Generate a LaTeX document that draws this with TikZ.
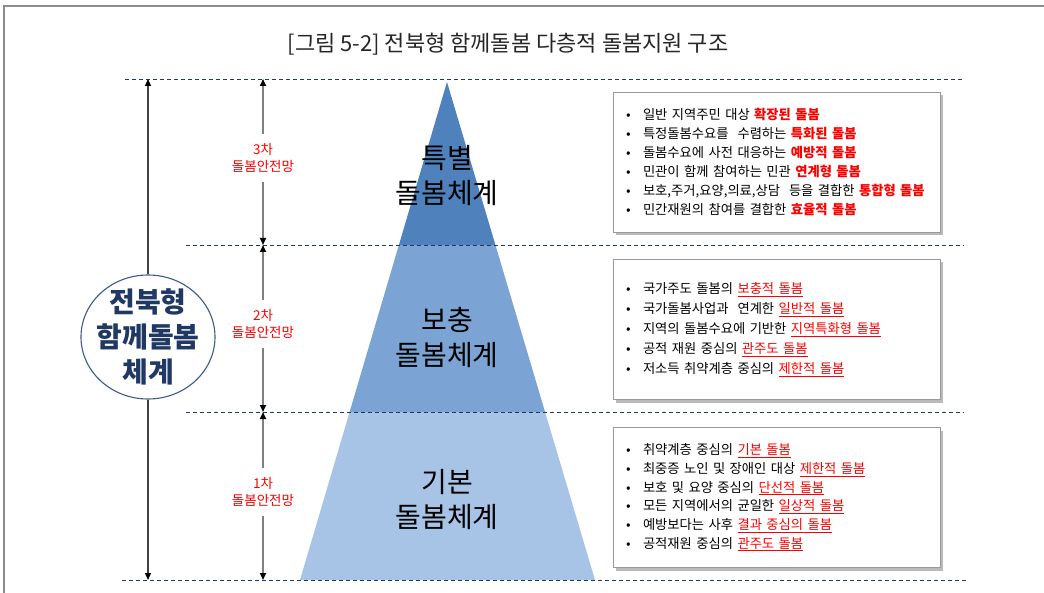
\documentclass[tikz,border=0pt]{standalone}
\usepackage{fontspec}
\setmainfont{Noto Sans CJK KR}
\usetikzlibrary{calc}
\usetikzlibrary{arrows.meta}
\usetikzlibrary{shapes.geometric}
\usetikzlibrary{shadows}

\definecolor{navy}{HTML}{1F3864}
\definecolor{rimblue}{HTML}{3E5A8E}
\definecolor{lvthree}{HTML}{4F81BD}
\definecolor{lvtwo}{HTML}{7BA3D3}
\definecolor{lvone}{HTML}{A7C3E5}
\definecolor{hired}{HTML}{FF0000}
\definecolor{framegray}{HTML}{8C8C8C}

\tikzset{
  sep/.style={navy, dash pattern=on 4pt off 3pt, line width=0.9pt},
  net/.style={hired, align=center, font=\fontsize{13.5}{17.5}\selectfont, inner xsep=2pt, inner ysep=9pt},
  netarr/.style={gray, line width=1.6pt, -{Triangle[length=7pt,width=6pt,color=black]}},
  sysarr/.style={black!75, line width=1.2pt, -{Triangle[length=7pt,width=6pt,color=black]}},
  layer/.style={align=center, font=\fontsize{28}{35}\selectfont},
  infobox/.style={draw=black!40, fill=white, line width=0.8pt, minimum width=327pt,
    minimum height=140pt, text width=301pt, inner xsep=13pt, align=left,
    drop shadow={shadow xshift=3pt, shadow yshift=-3pt, opacity=.45, fill=black!60}},
}
\newcommand{\bul}{\makebox[17pt][l]{•}}
\newcommand{\redbf}[1]{\textcolor{hired}{\textbf{#1}}}
\newcommand{\redul}[1]{\textcolor{hired}{\underline{#1}}}

\begin{document}
\begin{tikzpicture}[x=1pt,y=-1pt]
\useasboundingbox (0,0) rectangle (1044,593);
\draw[framegray, line width=1.5pt] (4,593) |- (1044,6);

\node[font=\fontsize{22}{26}\selectfont, text=black!85] (title) at (508,44) {[그림 5-2] 전북형 함께돌봄 다층적 돌봄지원 구조};

\coordinate (apex) at (447,82);
\coordinate (bl) at (300,580);
\coordinate (br) at (595,580);
\fill[lvone] (bl) -- (br) -- ($(apex)!0.6627!(br)$) -- ($(apex)!0.6627!(bl)$) -- cycle;
\fill[lvtwo] ($(apex)!0.6627!(bl)$) -- ($(apex)!0.6627!(br)$) -- ($(apex)!0.3273!(br)$) -- ($(apex)!0.3273!(bl)$) -- cycle;
\fill[lvthree] (apex) -- ($(apex)!0.3273!(br)$) -- ($(apex)!0.3273!(bl)$) -- cycle;

\draw[sep] (125,79) -- (964,79);
\draw[sep] (186,245) -- (964,245);
\draw[sep] (186,412) -- (964,412);
\draw[sep] (122,580) -- (966,580);

\node[layer] (special) at (447,176) {특별\\돌봄체계};
\node[layer] (supple) at (447,337) {보충\\돌봄체계};
\node[layer] (basic) at (447,500) {기본\\돌봄체계};

\node[draw=rimblue, line width=1.1pt, fill=white, ellipse, minimum width=134pt, minimum height=124pt, inner sep=-14pt,
  align=center, text=navy, font=\fontsize{28}{35}\selectfont\bfseries] (sys) at (148,337) {전북형\\함께돌봄\\체계};
\coordinate (systop) at (148,79);
\coordinate (sysbot) at (148,580);
\draw[sysarr] (sys) -- (systop);
\draw[sysarr] (sys) -- (sysbot);

\coordinate (c0) at (263,79);
\coordinate (c1) at (263,245);
\coordinate (c2) at (263,412);
\coordinate (c3) at (263,580);
\node[net] (net3) at (263,158) {3차\\돌봄안전망};
\node[net] (net2) at (263,324) {2차\\돌봄안전망};
\node[net] (net1) at (263,492) {1차\\돌봄안전망};
\draw[netarr] (net3) -- (c0);
\draw[netarr] (net3) -- (c1);
\draw[netarr] (net2) -- (c1);
\draw[netarr] (net2) -- (c2);
\draw[netarr] (net1) -- (c2);
\draw[netarr] (net1) -- (c3);

\node[infobox, font=\fontsize{13.3}{19}\selectfont] (box3) at (776.5,162) {%
\bul 일반 지역주민 대상 \redbf{확장된 돌봄}\\
\bul 특정돌봄수요를~ 수렴하는 \redbf{특화된 돌봄}\\
\bul 돌봄수요에 사전 대응하는 \redbf{예방적 돌봄}\\
\bul 민관이 함께 참여하는 민관 \redbf{연계형 돌봄}\\
\bul 보호,주거,요양,의료,상담~ 등을 결합한 \redbf{통합형 돌봄}\\
\bul 민간재원의 참여를 결합한 \redbf{효율적 돌봄}};

\node[infobox, font=\fontsize{13.3}{20}\selectfont] (box2) at (776.5,329.5) {%
\bul 국가주도 돌봄의 \redul{보충적 돌봄}\\
\bul 국가돌봄사업과~ 연계한 \redul{일반적 돌봄}\\
\bul 지역의 돌봄수요에 기반한 \redul{지역특화형 돌봄}\\
\bul 공적 재원 중심의 \redul{관주도 돌봄}\\
\bul 저소득 취약계층 중심의 \redul{제한적 돌봄}};

\node[infobox, font=\fontsize{13.3}{18.7}\selectfont] (box1) at (776.5,497.5) {%
\bul 취약계층 중심의 \redul{기본 돌봄}\\
\bul 최중증 노인 및 장애인 대상 \redul{제한적 돌봄}\\
\bul 보호 및 요양 중심의 \redul{단선적 돌봄}\\
\bul 모든 지역에서의 균일한 \redul{일상적 돌봄}\\
\bul 예방보다는 사후 \redul{결과 중심의 돌봄}\\
\bul 공적재원 중심의 \redul{관주도 돌봄}};
\end{tikzpicture}
\end{document}
